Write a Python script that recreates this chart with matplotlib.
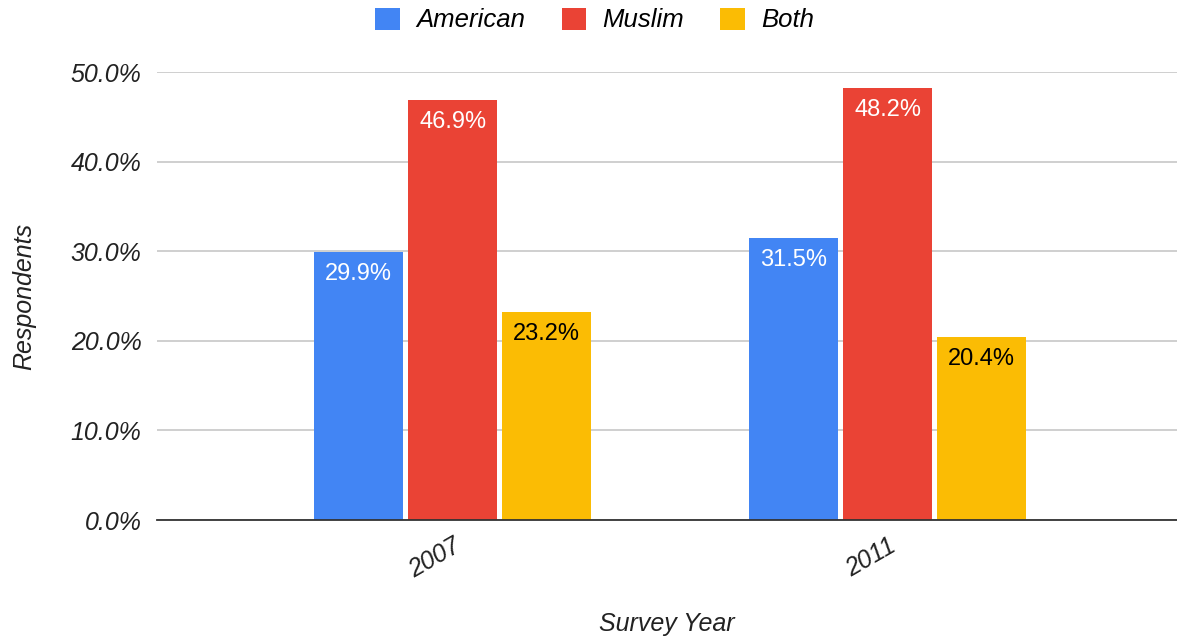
import matplotlib
matplotlib.use("Agg")
import matplotlib.pyplot as plt
import numpy as np

years = ["2007", "2011"]
series_names = ["American", "Muslim", "Both"]
american = [29.9, 31.5]
muslim = [46.9, 48.2]
both = [23.2, 20.4]
y_ticks = [0, 10, 20, 30, 40, 50]

colors = ["#4285F4", "#EA4335", "#FBBC04"]
label_colors = ["white", "white", "black"]

plt.rcParams['font.family'] = ['Liberation Sans', 'DejaVu Sans']
FS = 18

fig = plt.figure(figsize=(11.77, 6.4), dpi=100)
ax = fig.add_axes([157/1177, 1 - 520/640, 1 - 157/1177, (520 - 72)/640])

x = np.arange(len(years))
w = 0.205
step = 0.216
handles = []
for i, (vals, name) in enumerate(zip([american, muslim, both], series_names)):
    pos = x + (i - 1) * step
    bars = ax.bar(pos, vals, width=w, color=colors[i], label=name, zorder=3)
    handles.append(bars)
    for xp, v in zip(pos, vals):
        ax.annotate(f"{v:.1f}%", xy=(xp, v), xytext=(0, -8), textcoords="offset points",
                    ha="center", va="top", fontsize=17, color=label_colors[i], zorder=4)

ax.set_xlim(-0.68, 1.665)
ax.set_ylim(0, 50)
ax.set_yticks(y_ticks)
ax.set_yticklabels([f"{t:.1f}%" for t in y_ticks], fontsize=FS, style="italic", color="#222222")
ax.set_xticks(x)
ax.set_xticklabels(years, fontsize=FS, style="italic", rotation=30, ha="right", va="top",
                   rotation_mode="anchor", color="#222222")
ax.tick_params(axis="both", length=0)
ax.tick_params(axis="y", pad=11)
ax.tick_params(axis="x", pad=10)
ax.grid(axis="y", color="#cccccc", linewidth=1.3, zorder=0)
for s in ["top", "right", "left"]:
    ax.spines[s].set_visible(False)
ax.spines["bottom"].set_color("#333333")
ax.spines["bottom"].set_linewidth(1.3)
ax.spines["bottom"].set_zorder(5)

ax.set_xlabel("Survey Year", fontsize=FS, style="italic", color="#222222", labelpad=21)
ax.set_ylabel("Respondents", fontsize=FS, style="italic", color="#222222", labelpad=25)

fig.legend(handles=handles, labels=series_names, loc="center", bbox_to_anchor=(595/1177, 1 - 20/640),
           ncol=3, frameon=False, prop={"size": 18.5, "style": "italic"}, handlelength=0.95,
           handleheight=0.95, handletextpad=0.65, columnspacing=1.4)

fig.savefig("out.png", dpi=100)
